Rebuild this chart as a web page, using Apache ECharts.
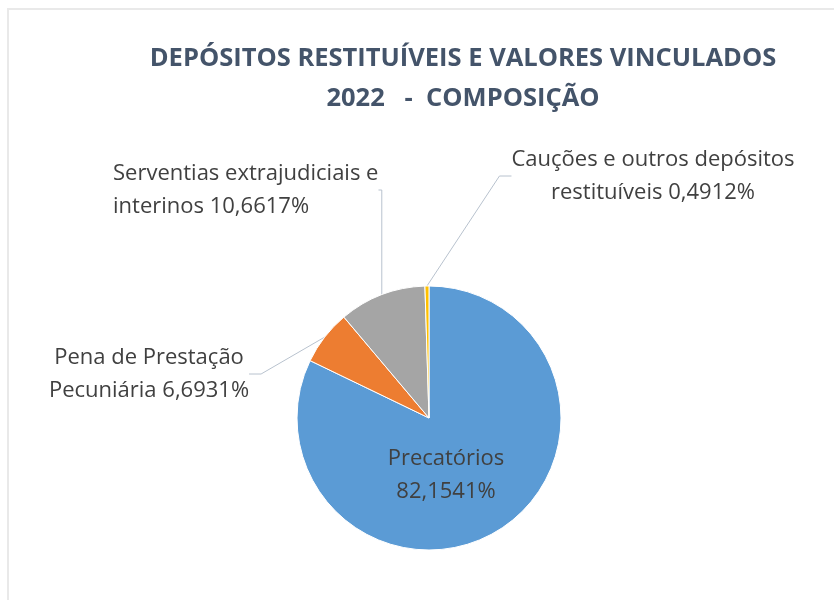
<!DOCTYPE html>
<html style="height: 100%">
<head>
    <meta charset="utf-8">
    <script src="https://cdn.jsdelivr.net/npm/echarts@6/dist/echarts.min.js"></script>
</head>
<body style="height: 100%; margin: 0; overflow: hidden; background: #fff">
<div style="position: absolute; left: 7px; top: 8px; width: 900px; height: 700px; border-left: 2px solid #e9e9e9; border-top: 2px solid #e9e9e9"></div>
<div id="composicao_container" style="position: absolute; left: 0; top: 0; height: 600px; width: 834px"></div>
<script type="text/javascript">
    // fatias, no sentido horário a partir do topo
    var composicao_nomes = ['Precatórios', 'Pena de Prestação\nPecuniária', 'Serventias extrajudiciais e\ninterinos', 'Cauções e outros depósitos\nrestituíveis'];
    var composicao_valores = [82.1541, 6.6931, 10.6617, 0.4912];
    var composicao_cores = ['#5b9bd5', '#ed7d31', '#a5a5a5', '#ffc000'];

    // onde fica cada rótulo: [x, y, align]
    var composicao_rotulos = [
        [446, 475, 'center'],
        [149, 374, 'center'],
        [113, 190, 'left'],
        [653, 176, 'center']
    ];

    var composicao_dom = document.getElementById('composicao_container');
    var composicao_chart = echarts.init(composicao_dom);

    var composicao_data = composicao_nomes.map(function (nome, i) {
        return {
            name: nome,
            value: composicao_valores[i],
            itemStyle: { color: composicao_cores[i] }
        };
    });

    var composicao_option = {
        backgroundColor: 'transparent',
        title: {
            text: 'DEPÓSITOS RESTITUÍVEIS E VALORES VINCULADOS\n2022   -  COMPOSIÇÃO',
            left: 458,
            top: 34,
            textAlign: 'center',
            textStyle: {
                fontFamily: '"Open Sans", sans-serif',
                fontSize: 25.5,
                fontWeight: 'bold',
                color: '#44546a',
                lineHeight: 40
            }
        },
        series: [{
            type: 'pie',
            center: [429, 418],
            radius: [0, 132],
            startAngle: 90,
            clockwise: true,
            avoidLabelOverlap: false,
            animation: false,
            itemStyle: {
                borderColor: '#fff',
                borderWidth: 1
            },
            label: {
                show: true,
                position: 'outside',
                fontFamily: '"Open Sans", sans-serif',
                fontSize: 22,
                lineHeight: 33,
                color: '#404040',
                formatter: function (p) {
                    var v = p.value.toFixed(4).replace('.', ',') + '%';
                    return p.dataIndex === 0 ? p.name + '\n' + v : p.name + ' ' + v;
                }
            },
            labelLine: {
                show: true,
                length: 40,
                length2: 12,
                lineStyle: { color: '#b8c2ce', width: 1 }
            },
            labelLayout: function (params) {
                var r = composicao_rotulos[params.dataIndex];
                return {
                    x: r[0],
                    y: r[1],
                    align: r[2],
                    verticalAlign: 'middle'
                };
            },
            data: composicao_data
        }]
    };
    composicao_option.series[0].data[0].label = { position: 'inside' };
    composicao_option.series[0].data[0].labelLine = { show: false };

    composicao_chart.setOption(composicao_option, true);
</script>
</body>
</html>
